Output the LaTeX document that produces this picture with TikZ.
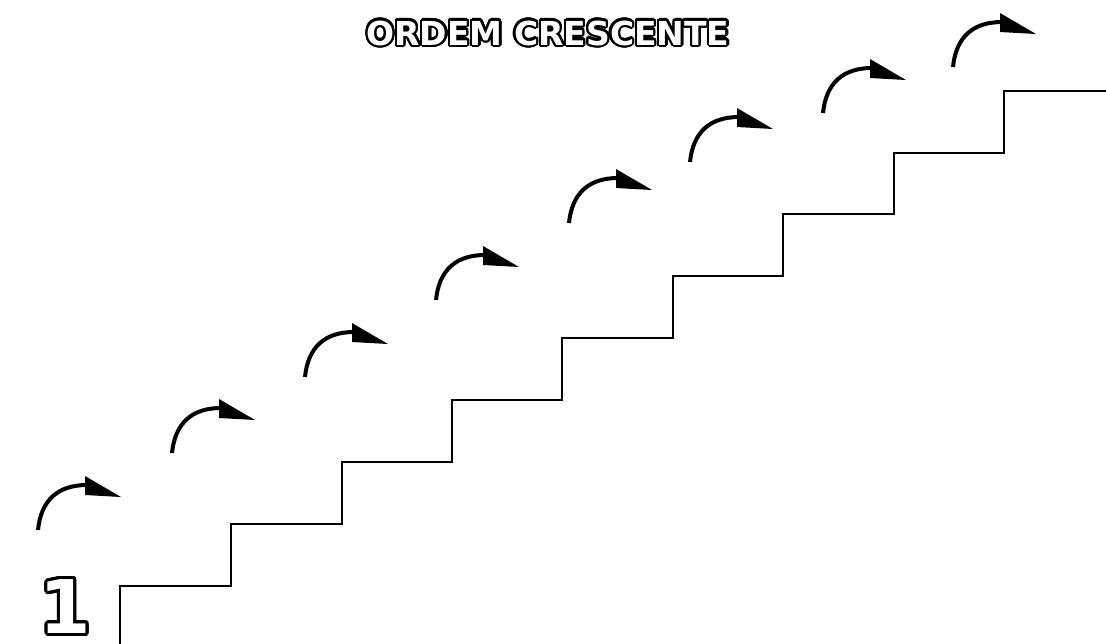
\documentclass[tikz,border=0pt]{standalone}
\usepackage{fontspec}
\newfontfamily\bubblefont{DejaVu Sans}
\begin{document}
\begin{tikzpicture}[x=1pt,y=-1pt,
  stairline/.style={line width=2pt,line join=miter},
  curvearrow/.pic={
    \draw[line width=4pt] (0,0) .. controls (3,-30) and (20,-45) .. (49,-45);
    \fill (47,-54) -- (47,-35) -- (83,-33) -- cycle;
  },
  outl/.style={text=black,inner sep=0pt},
  inl/.style={text=white,inner sep=0pt}]
\useasboundingbox (0,0) rectangle (1106,643);
% title
\coordinate (title) at (548,33);
\foreach \a in {0,15,...,345}
  \node[outl,font=\bubblefont\bfseries\fontsize{33}{33}\selectfont] at ([shift={(\a:2.2)}]title) {ORDEM CRESCENTE};
\node[inl,font=\bubblefont\bfseries\fontsize{33}{33}\selectfont] (titletext) at (title) {ORDEM CRESCENTE};
% number 1
\coordinate (one) at (65.5,606.5);
\foreach \a in {0,15,...,345}
  \node[outl,font=\bubblefont\bfseries\fontsize{74}{74}\selectfont] at ([shift={(\a:3)}]one) {1};
\node[inl,font=\bubblefont\bfseries\fontsize{74}{74}\selectfont] (onetext) at (one) {1};
% stairs
\draw[stairline] (120,645) -- (120,586) -- (231,586) -- (231,524) -- (342,524) -- (342,462)
  -- (452,462) -- (452,400) -- (562,400) -- (562,338) -- (673,338) -- (673,276)
  -- (783,276) -- (783,214) -- (894,214) -- (894,153) -- (1004,153) -- (1004,91) -- (1108,91);
% arrows
\foreach \x/\y in {38/530,172/453,305/377,436/300,569/223,690/162,823/113,953/67}
  \pic at (\x,\y) {curvearrow};
\end{tikzpicture}
\end{document}
